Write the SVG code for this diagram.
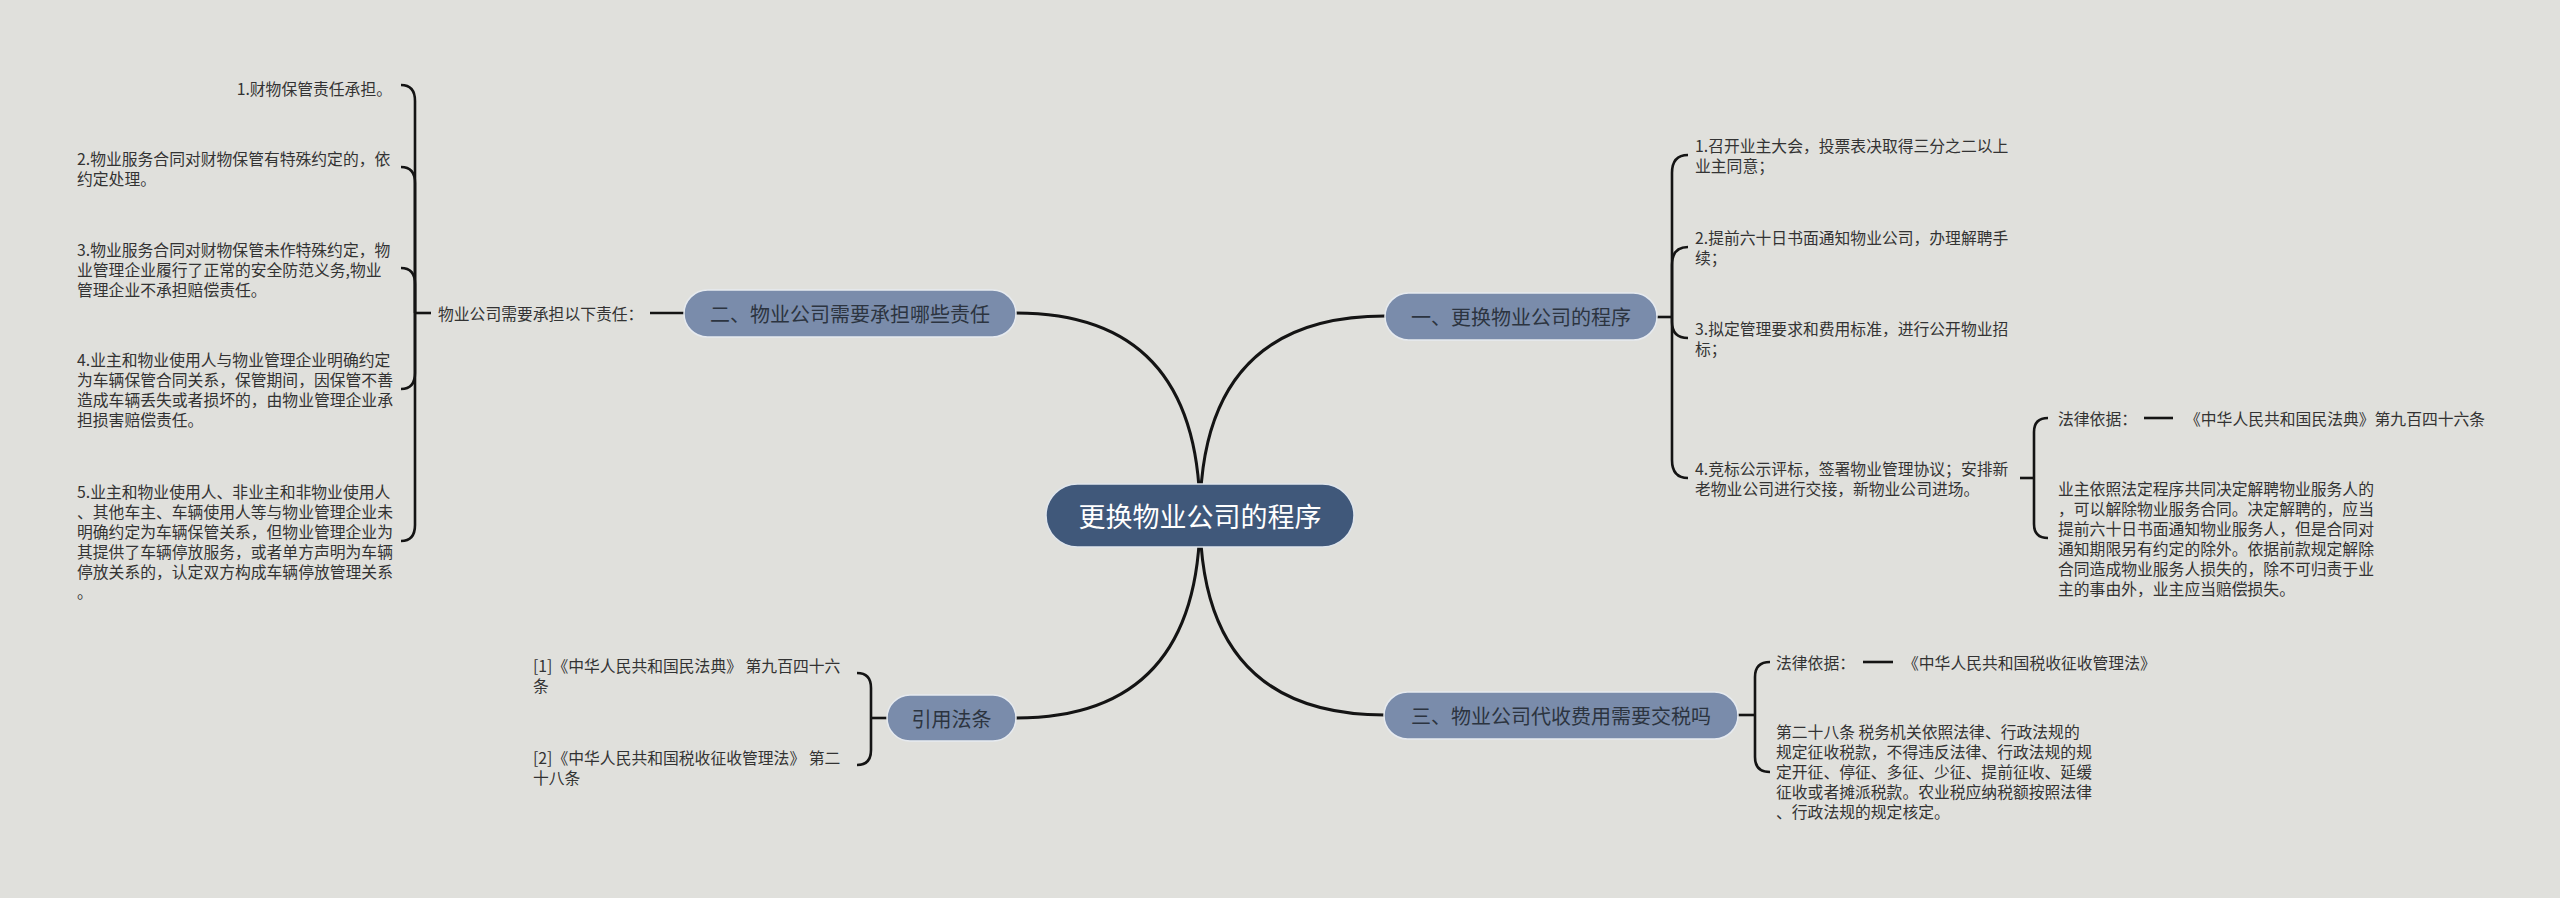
<svg xmlns="http://www.w3.org/2000/svg" width="2560" height="898" viewBox="0 0 2560 898">
<style>
.bg{fill:#e0e0dc}
.main{fill:none;stroke:#141414;stroke-width:3;stroke-linecap:round}
.br{fill:none;stroke:#141414;stroke-width:2.6;stroke-linecap:butt}
.root{fill:#40587a;stroke:#dfe5ec;stroke-width:1.5}
.branch{fill:#7a8cab;stroke:#e6eaef;stroke-width:1.5}
.rt{font-family:"Noto Sans CJK SC","Noto Sans",sans-serif;font-size:27px;fill:#ffffff;text-anchor:middle;dominant-baseline:central}
.bt{font-family:"Noto Sans CJK SC","Noto Sans",sans-serif;font-size:20px;fill:#2c3440;text-anchor:middle;dominant-baseline:central}
.t{font-family:"Noto Sans CJK SC","Noto Sans",sans-serif;font-size:15.8px;fill:#333333;dominant-baseline:central}
.e{text-anchor:end}
</style>
<rect class="bg" x="0" y="0" width="2560" height="898"/>

<g id="connectors">
  <path class="main" d="M1200 516 Q1200 316 1385 316"/>
  <path class="main" d="M1200 516 Q1200 313 1016 313"/>
  <path class="main" d="M1200 516 Q1200 715 1385 715"/>
  <path class="main" d="M1200 516 Q1200 718 1016 718"/>
  <!-- node1 bracket -->
  <path class="br" d="M1656 317 H1672"/>
  <path class="br" d="M1672 317 V173 Q1672 155 1688 155"/>
  <path class="br" d="M1672 317 V265 Q1672 247 1688 247"/>
  <path class="br" d="M1672 317 V322 Q1672 338 1688 338"/>
  <path class="br" d="M1672 317 V460 Q1672 478 1688 478"/>
  <!-- node1 item4 sub bracket -->
  <path class="br" d="M2020 478 H2034"/>
  <path class="br" d="M2034 478 V432 Q2034 418 2048 418"/>
  <path class="br" d="M2034 478 V524 Q2034 538 2048 538"/>
  <path class="br" d="M2144 418 H2173"/>
  <!-- node2 -->
  <path class="br" d="M650 313 H684"/>
  <path class="br" d="M431 313 H415"/>
  <path class="br" d="M415 313 V101 Q415 85 401 85"/>
  <path class="br" d="M415 313 V183 Q415 167 401 167"/>
  <path class="br" d="M415 313 V284 Q415 268 401 268"/>
  <path class="br" d="M415 313 V373 Q415 389 401 389"/>
  <path class="br" d="M415 313 V525 Q415 541 401 541"/>
  <!-- node3 -->
  <path class="br" d="M1738 715 H1755"/>
  <path class="br" d="M1755 715 V677 Q1755 662 1770 662"/>
  <path class="br" d="M1755 715 V757 Q1755 772 1770 772"/>
  <path class="br" d="M1863 662 H1893"/>
  <!-- node4 -->
  <path class="br" d="M887 718 H871"/>
  <path class="br" d="M871 718 V688 Q871 673 857 673"/>
  <path class="br" d="M871 718 V750 Q871 765 857 765"/>
</g>

<g id="root">
  <rect class="root" x="1046" y="484" width="308" height="63" rx="31.5"/>
  <text class="rt" x="1200" y="515">更换物业公司的程序</text>
</g>

<g id="node1">
  <rect class="branch" x="1385" y="293" width="272" height="47" rx="23.5"/>
  <text class="bt" x="1521" y="316">一、更换物业公司的程序</text>
</g>
<g id="node1-items">
  <text class="t" x="1695" y="145">1.召开业主大会，投票表决取得三分之二以上</text>
  <text class="t" x="1695" y="165">业主同意；</text>
  <text class="t" x="1695" y="237">2.提前六十日书面通知物业公司，办理解聘手</text>
  <text class="t" x="1695" y="257">续；</text>
  <text class="t" x="1695" y="328">3.拟定管理要求和费用标准，进行公开物业招</text>
  <text class="t" x="1695" y="348">标；</text>
  <text class="t" x="1695" y="468">4.竞标公示评标，签署物业管理协议；安排新</text>
  <text class="t" x="1695" y="488">老物业公司进行交接，新物业公司进场。</text>
</g>
<g id="node1-basis">
  <text class="t" x="2058" y="418">法律依据：</text>
  <text class="t" x="2185" y="418">《中华人民共和国民法典》第九百四十六条</text>
  <text class="t" x="2058" y="488">业主依照法定程序共同决定解聘物业服务人的</text>
  <text class="t" x="2058" y="508">，可以解除物业服务合同。决定解聘的，应当</text>
  <text class="t" x="2058" y="528">提前六十日书面通知物业服务人，但是合同对</text>
  <text class="t" x="2058" y="548">通知期限另有约定的除外。依据前款规定解除</text>
  <text class="t" x="2058" y="568">合同造成物业服务人损失的，除不可归责于业</text>
  <text class="t" x="2058" y="588">主的事由外，业主应当赔偿损失。</text>
</g>

<g id="node2">
  <rect class="branch" x="684" y="290" width="332" height="47" rx="23.5"/>
  <text class="bt" x="850" y="313">二、物业公司需要承担哪些责任</text>
</g>
<g id="node2-label">
  <text class="t" x="438" y="313">物业公司需要承担以下责任：</text>
</g>
<g id="node2-items">
  <text class="t e" x="392" y="88">1.财物保管责任承担。</text>
  <text class="t" x="77" y="158">2.物业服务合同对财物保管有特殊约定的，依</text>
  <text class="t" x="77" y="178">约定处理。</text>
  <text class="t" x="77" y="249">3.物业服务合同对财物保管未作特殊约定，物</text>
  <text class="t" x="77" y="269">业管理企业履行了正常的安全防范义务,物业</text>
  <text class="t" x="77" y="289">管理企业不承担赔偿责任。</text>
  <text class="t" x="77" y="359">4.业主和物业使用人与物业管理企业明确约定</text>
  <text class="t" x="77" y="379">为车辆保管合同关系，保管期间，因保管不善</text>
  <text class="t" x="77" y="399">造成车辆丢失或者损坏的，由物业管理企业承</text>
  <text class="t" x="77" y="419">担损害赔偿责任。</text>
  <text class="t" x="77" y="491">5.业主和物业使用人、非业主和非物业使用人</text>
  <text class="t" x="77" y="511">、其他车主、车辆使用人等与物业管理企业未</text>
  <text class="t" x="77" y="531">明确约定为车辆保管关系，但物业管理企业为</text>
  <text class="t" x="77" y="551">其提供了车辆停放服务，或者单方声明为车辆</text>
  <text class="t" x="77" y="571">停放关系的，认定双方构成车辆停放管理关系</text>
  <text class="t" x="77" y="591">。</text>
</g>

<g id="node3">
  <rect class="branch" x="1384" y="692" width="354" height="47" rx="23.5"/>
  <text class="bt" x="1561" y="715">三、物业公司代收费用需要交税吗</text>
</g>
<g id="node3-items">
  <text class="t" x="1776" y="662">法律依据：</text>
  <text class="t" x="1903" y="662">《中华人民共和国税收征收管理法》</text>
  <text class="t" x="1776" y="731">第二十八条 税务机关依照法律、行政法规的</text>
  <text class="t" x="1776" y="751">规定征收税款，不得违反法律、行政法规的规</text>
  <text class="t" x="1776" y="771">定开征、停征、多征、少征、提前征收、延缓</text>
  <text class="t" x="1776" y="791">征收或者摊派税款。农业税应纳税额按照法律</text>
  <text class="t" x="1776" y="811">、行政法规的规定核定。</text>
</g>

<g id="node4">
  <rect class="branch" x="887" y="695" width="129" height="46" rx="23"/>
  <text class="bt" x="951.5" y="718">引用法条</text>
</g>
<g id="node4-items">
  <text class="t" x="533" y="665">[1]《中华人民共和国民法典》 第九百四十六</text>
  <text class="t" x="533" y="685">条</text>
  <text class="t" x="533" y="757">[2]《中华人民共和国税收征收管理法》 第二</text>
  <text class="t" x="533" y="777">十八条</text>
</g>
</svg>
